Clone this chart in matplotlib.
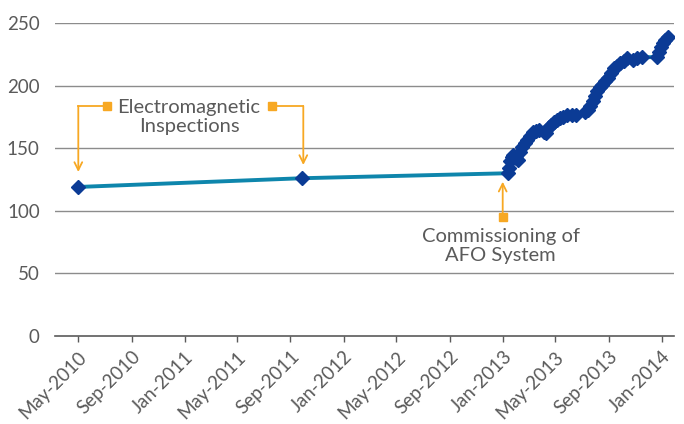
import numpy as np
import pandas as pd
import matplotlib
matplotlib.use("Agg")
import matplotlib.pyplot as plt
import matplotlib.dates as mdates

# readings (date, value)
dates = [
    "2010-05-01", "2011-09-27",
    "2013-01-12", "2013-01-15", "2013-01-17", "2013-01-21", "2013-01-25",
    "2013-01-31", "2013-02-05", "2013-02-09", "2013-02-14", "2013-02-20",
    "2013-02-25", "2013-03-04", "2013-03-11", "2013-03-18", "2013-03-25",
    "2013-04-05", "2013-04-11", "2013-04-16", "2013-04-22", "2013-04-29",
    "2013-05-05", "2013-05-12", "2013-05-19", "2013-05-28", "2013-06-08",
    "2013-06-18", "2013-07-09", "2013-07-16", "2013-07-21", "2013-07-27",
    "2013-08-01", "2013-08-05", "2013-08-11", "2013-08-17", "2013-08-24",
    "2013-08-31", "2013-09-07", "2013-09-14", "2013-09-20", "2013-09-27",
    "2013-10-06", "2013-10-13", "2013-10-27", "2013-11-05", "2013-11-17",
    "2013-12-20", "2013-12-25", "2013-12-29", "2014-01-03", "2014-01-09",
    "2014-01-16",
]
values = [
    119, 126,
    130, 134, 140, 143, 145,
    142, 141, 147, 151, 154,
    157, 160, 163, 164, 165,
    163, 162, 167, 169, 171,
    172.5, 174, 175, 176.5, 177,
    176.5, 179, 181, 184, 188,
    192, 196, 199, 201, 204,
    206, 210, 214, 216, 218,
    220, 222, 220.5, 222, 223,
    223, 227, 231, 234, 236.5,
    239,
]

tick_dates = pd.date_range("2010-05-01", "2014-01-01", freq="4MS")
y_ticks = [0, 50, 100, 150, 200, 250]

x = pd.to_datetime(dates)

grey = "#5a5a5a"
orange = "#F7A823"
font = "Lato"

fig = plt.figure(figsize=(6.84, 4.24), dpi=100)
ax = fig.add_axes([0.0804, 0.2087, 0.905, 0.736])

ax.plot(x, values, color="#0E86AC", lw=2.8, zorder=2)
ax.plot(x, values, ls="none", marker="D", ms=7, color="#0B3B95", zorder=3)

ax.set_xlim(pd.Timestamp("2010-03-09"), pd.Timestamp("2014-01-29"))
ax.set_ylim(0, 250)
ax.set_yticks(y_ticks)
for v in y_ticks[1:]:
    ax.axhline(v, color="#8c8c8c", lw=1, zorder=1)

ax.set_xticks(tick_dates)
ax.xaxis.set_major_formatter(mdates.DateFormatter("%b-%Y"))
for s in ["top", "right", "left"]:
    ax.spines[s].set_visible(False)
ax.spines["bottom"].set_color(grey)
ax.spines["bottom"].set_linewidth(1.2)
ax.tick_params(axis="y", length=0, pad=11, labelsize=13.5, labelcolor=grey)
ax.tick_params(axis="x", length=4, width=1, color=grey, pad=5,
               labelsize=13.5, labelcolor=grey)
for lab in ax.get_xticklabels():
    lab.set_rotation(45)
    lab.set_ha("right")
    lab.set_va("top")
    lab.set_rotation_mode("anchor")
for lab in ax.get_xticklabels() + ax.get_yticklabels():
    lab.set_fontfamily(font)

# annotations
arrow = dict(arrowstyle="->", color=orange, lw=1.3, mutation_scale=14,
             shrinkA=0, shrinkB=0)

fig.text(189 / 684, 1 - 117 / 424, "Electromagnetic\nInspections",
         ha="center", va="center", fontsize=14.5, color=grey,
         family=font, linespacing=1.2)

for sq, corner, tip in [((106.7, 106), (78.3, 106), (78.3, 172)),
                        ((272.3, 106), (303.3, 106), (303.3, 165))]:
    fig.lines.append(plt.Line2D([sq[0] / 684, corner[0] / 684],
                                [1 - sq[1] / 424, 1 - corner[1] / 424],
                                transform=fig.transFigure, color=orange, lw=1.3))
    fig.lines.append(plt.Line2D([sq[0] / 684], [1 - sq[1] / 424],
                                transform=fig.transFigure, marker="s", ms=5.5,
                                color=orange, ls="none"))
    ax.annotate("", xy=(tip[0] / 684, 1 - tip[1] / 424),
                xytext=(corner[0] / 684, 1 - corner[1] / 424),
                xycoords="figure fraction", textcoords="figure fraction",
                arrowprops=arrow)

ax.annotate("", xy=(502.7 / 684, 1 - 181.7 / 424),
            xytext=(502.7 / 684, 1 - 217.3 / 424),
            xycoords="figure fraction", textcoords="figure fraction",
            arrowprops=arrow)
fig.lines.append(plt.Line2D([502.7 / 684], [1 - 217.3 / 424],
                            transform=fig.transFigure, marker="s", ms=5.5,
                            color=orange, ls="none"))
fig.text(500.8 / 684, 1 - 246 / 424, "Commissioning of\nAFO System",
         ha="center", va="center", fontsize=14.5, color=grey,
         family=font, linespacing=1.15)

fig.savefig("out.png", dpi=100)
